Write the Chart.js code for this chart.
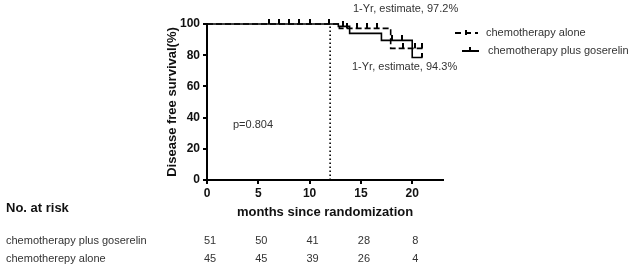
<!DOCTYPE html>
<html lang="en">
<head>
    <meta charset="UTF-8">
    <title>Disease free survival</title>
    <script src="https://cdn.jsdelivr.net/npm/chart.js"></script>
    <style>
        body { margin: 0; background: #fff; }
        #chartBox { width: 638px; height: 270px; }
    </style>
</head>
<body>
    <div id="chartBox">
        <canvas id="kmChart" width="638" height="270"></canvas>
    </div>
    <script>
        // Kaplan-Meier steps (months, % disease free)
        const goserelinTime = [0, 12.8, 13.9, 17.0, 20.0, 21.0];
        const goserelinSurv = [100, 98.5, 94.0, 89.5, 78.5, 78.5];
        const aloneTime = [0, 12.9, 17.9, 21.0];
        const aloneSurv = [100, 97.2, 84.4, 84.4];

        // censored observations
        const goserelinCensorTime = [6, 7, 8, 9, 10, 11.9, 13.3, 18.0, 19.0, 21.0];
        const goserelinCensorSurv = [100, 100, 100, 100, 100, 100, 98.5, 89.5, 89.5, 78.5];
        const aloneCensorTime = [13.6, 14.6, 15.6, 16.6, 19.1, 20.3, 21.0];
        const aloneCensorSurv = [97.2, 97.2, 97.2, 97.2, 84.4, 84.4, 84.4];

        // one-year reference line
        const landmarkMonth = 12;

        // number at risk table
        const riskMonths = [0, 5, 10, 15, 20];
        const riskGoserelin = [51, 50, 41, 28, 8];
        const riskAlone = [45, 45, 39, 26, 4];
        const groupNames = ['chemotherapy plus goserelin', 'chemotherepy alone'];
        const legendNames = ['chemotherapy alone', 'chemotherapy plus goserelin'];

        const FONT = 'Arial, "Liberation Sans", sans-serif';
        Chart.defaults.font.family = FONT;
        Chart.defaults.color = '#111';

        function toPoints(xs, ys) {
            return xs.map((v, i) => ({ x: v, y: ys[i] }));
        }

        // little upward tick used as the censor marker
        function makeTick() {
            const c = document.createElement('canvas');
            c.width = 2; c.height = 10;
            const g = c.getContext('2d');
            g.fillStyle = '#000';
            g.fillRect(0, 0, 2, 5);
            return c;
        }
        const tick = makeTick();

        const extras = {
            id: 'extras',
            afterDraw(chart) {
                const { ctx, scales: { x } } = chart;
                ctx.save();
                ctx.textBaseline = 'middle';

                // risk table
                ctx.fillStyle = '#111';
                ctx.textAlign = 'left';
                ctx.font = 'bold 13px ' + FONT;
                ctx.fillText('No. at risk', 6, 208);
                ctx.fillStyle = '#333';
                ctx.font = '11px ' + FONT;
                ctx.fillText(groupNames[0], 6, 241);
                ctx.fillText(groupNames[1], 6, 259);
                ctx.textAlign = 'center';
                riskMonths.forEach((m, i) => {
                    const px = x.getPixelForValue(m) + 3;
                    ctx.fillText(String(riskGoserelin[i]), px, 241);
                    ctx.fillText(String(riskAlone[i]), px, 259);
                });

                // annotations
                ctx.textAlign = 'left';
                ctx.fillText('1-Yr, estimate, 97.2%', 353, 9);
                ctx.fillText('1-Yr, estimate, 94.3%', 352, 67);
                ctx.fillText('p=0.804', 233, 125);

                // legend
                ctx.fillText(legendNames[0], 486, 33);
                ctx.fillText(legendNames[1], 488, 51);
                ctx.strokeStyle = '#000';
                ctx.lineWidth = 2;
                ctx.beginPath();
                ctx.setLineDash([6, 4]);
                ctx.moveTo(455, 33);
                ctx.lineTo(478, 33);
                ctx.stroke();
                ctx.setLineDash([]);
                ctx.beginPath();
                ctx.moveTo(466, 30);
                ctx.lineTo(466, 35);
                ctx.moveTo(462, 51);
                ctx.lineTo(479, 51);
                ctx.moveTo(470, 47);
                ctx.lineTo(470, 51);
                ctx.stroke();
                ctx.restore();
            }
        };

        new Chart(document.getElementById('kmChart'), {
            type: 'line',
            data: {
                datasets: [{
                    label: 'chemotherapy plus goserelin',
                    data: toPoints(goserelinTime, goserelinSurv),
                    stepped: true,
                    borderColor: '#000',
                    borderWidth: 1.6,
                    pointRadius: 0,
                    clip: false
                }, {
                    label: 'chemotherapy alone',
                    data: toPoints(aloneTime, aloneSurv),
                    stepped: true,
                    borderColor: '#000',
                    borderWidth: 1.6,
                    borderDash: [6, 3],
                    pointRadius: 0,
                    clip: false
                }, {
                    label: 'censored goserelin',
                    type: 'scatter',
                    data: toPoints(goserelinCensorTime, goserelinCensorSurv),
                    pointStyle: tick,
                    clip: false
                }, {
                    label: 'censored alone',
                    type: 'scatter',
                    data: toPoints(aloneCensorTime, aloneCensorSurv),
                    pointStyle: tick,
                    clip: false
                }, {
                    label: '1 year',
                    data: [{ x: landmarkMonth, y: 0 }, { x: landmarkMonth, y: 100 }],
                    borderColor: '#000',
                    borderWidth: 1.6,
                    borderDash: [1.6, 2.4],
                    pointRadius: 0
                }]
            },
            options: {
                responsive: false,
                animation: false,
                layout: { padding: { left: 161, right: 195, top: 24, bottom: 50 } },
                plugins: {
                    legend: { display: false },
                    tooltip: { enabled: false }
                },
                scales: {
                    x: {
                        type: 'linear',
                        min: 0,
                        max: 23,
                        afterBuildTicks: (s) => { s.ticks = s.ticks.filter(t => t.value % 5 === 0); },
                        afterFit: (s) => { s.height = 40; },
                        ticks: { stepSize: 5, maxRotation: 0, font: { size: 12, weight: 'bold' }, padding: 2 },
                        grid: { drawOnChartArea: false, drawTicks: true, tickLength: 4, color: '#000', lineWidth: 2 },
                        border: { display: true, color: '#000', width: 2 },
                        title: {
                            display: true,
                            text: 'months since randomization',
                            font: { size: 13, weight: 'bold' },
                            padding: { top: 2, bottom: 0 }
                        }
                    },
                    y: {
                        min: 0,
                        max: 100,
                        afterFit: (s) => { s.width = 46; },
                        ticks: { stepSize: 20, font: { size: 12, weight: 'bold' }, padding: 3 },
                        grid: { drawOnChartArea: false, drawTicks: true, tickLength: 4, color: '#000', lineWidth: 2 },
                        border: { display: true, color: '#000', width: 2 },
                        title: {
                            display: true,
                            text: 'Disease free survival(%)',
                            font: { size: 13, weight: 'bold' },
                            padding: { top: 4, bottom: 4 }
                        }
                    }
                }
            },
            plugins: [extras]
        });
    </script>
</body>
</html>
